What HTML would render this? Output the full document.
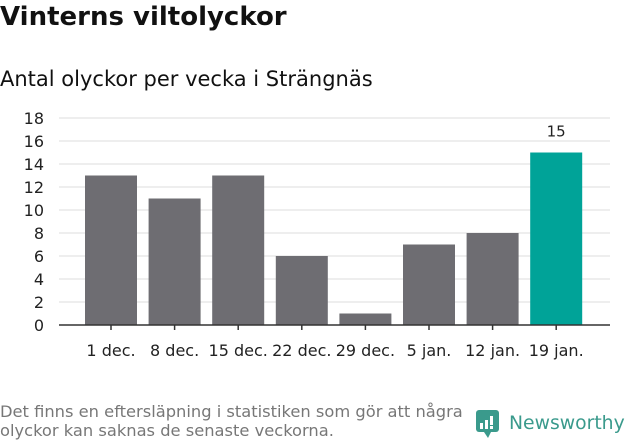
<!DOCTYPE html>
<html><head><meta charset="utf-8"><style>
body{margin:0;width:631px;height:439px;background:#fff;font-family:"DejaVu Sans","Liberation Sans",sans-serif;overflow:hidden;position:relative}
.t{position:absolute;left:0;top:2px;font-size:26px;font-weight:bold;color:#111}
.s{position:absolute;left:0;top:67px;font-size:21px;color:#111}
.f{position:absolute;left:0;top:402px;font-size:16.3px;color:#777;line-height:19px;white-space:nowrap}
</style></head><body>
<div class="t">Vinterns viltolyckor</div>
<div class="s">Antal olyckor per vecka i Strängnäs</div>
<svg id="c" width="631" height="439" style="position:absolute;left:0;top:0"></svg>
<div class="f">Det finns en eftersläpning i statistiken som gör att några<br>olyckor kan saknas de senaste veckorna.</div>
<div style="position:absolute;left:476px;top:408px;">
<svg width="155" height="32"><rect x="0" y="2" width="23" height="22" rx="3" fill="#3a9a8c"/><path d="M8 24 L12 30 L15 24Z" fill="#3a9a8c"/>
<rect x="4" y="15" width="3" height="6" fill="#fff"/><rect x="9" y="12" width="3" height="9" fill="#fff"/><rect x="14" y="8" width="3" height="9" fill="#fff"/><rect x="14" y="18" width="3" height="3" fill="#fff"/>
<text x="33" y="21" font-size="18.8" fill="#3a9a8c" font-family="DejaVu Sans, sans-serif">Newsworthy</text></svg></div>
<script>
const categories=["1 dec.","8 dec.","15 dec.","22 dec.","29 dec.","5 jan.","12 jan.","19 jan."];
const values=[13,11,13,6,1,7,8,15];
const ticks=[0,2,4,6,8,10,12,14,16,18];
const ns="http://www.w3.org/2000/svg",svg=document.getElementById("c");
const y=v=>325-v*(207/18), x=i=>111+i*63.6;
function el(t,a){const e=document.createElementNS(ns,t);for(const k in a)e.setAttribute(k,a[k]);svg.appendChild(e);return e;}
ticks.forEach(t=>{
 if(t>0){const g=el("line",{x1:59,x2:610,y1:y(t),y2:y(t),stroke:"#ddd","stroke-width":1});
 
 }
 const l=el("text",{x:44,y:y(t)+6,"text-anchor":"end","font-size":16,fill:"#222","font-family":"DejaVu Sans, sans-serif"});l.textContent=t;
 
 
});
values.forEach((v,i)=>{
 const last=i===values.length-1;
 const r=el("rect",{x:x(i)-26,y:y(v),width:52,height:325-y(v),fill:last?"#00a398":"#6e6d72"});
 
 
 el("line",{x1:x(i),x2:x(i),y1:325,y2:330,stroke:"#333","stroke-width":1.5});
 const l=el("text",{x:x(i),y:356,"text-anchor":"middle","font-size":16,fill:"#222","font-family":"DejaVu Sans, sans-serif"});l.textContent=categories[i];
 
 
 if(last){const vl=el("text",{x:x(i),y:y(v)-16,"text-anchor":"middle","font-size":15,fill:"#222","font-family":"DejaVu Sans, sans-serif"});vl.textContent=v;
 
 }
});
const ax=el("line",{x1:59,x2:610,y1:325,y2:325,stroke:"#333","stroke-width":1.5});


</script>
</body></html>
